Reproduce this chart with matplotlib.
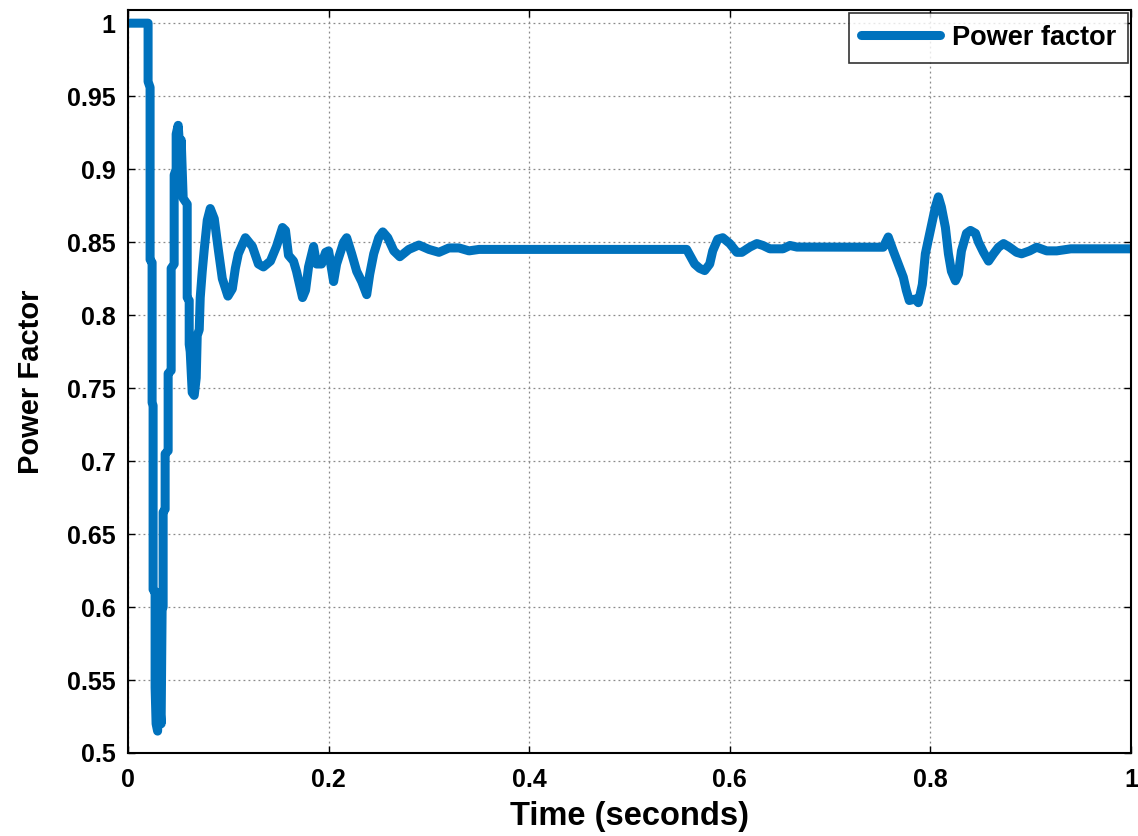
import matplotlib.pyplot as plt
from matplotlib.ticker import FormatStrFormatter

# time (s) and power factor
time_s = [
    0.0, 0.020, 0.020, 0.022, 0.022, 0.024, 0.024, 0.025, 0.025, 0.027,
    0.027, 0.028, 0.0295, 0.030, 0.031, 0.032, 0.033, 0.034, 0.035, 0.035,
    0.037, 0.037, 0.040, 0.040, 0.043, 0.043, 0.046, 0.046, 0.048, 0.048,
    0.050, 0.051, 0.052, 0.053, 0.054, 0.055, 0.057, 0.059, 0.059, 0.061,
    0.061, 0.062, 0.064, 0.066, 0.068, 0.069, 0.071, 0.072, 0.074, 0.076,
    0.079, 0.082, 0.086, 0.090, 0.094, 0.0996,
    0.104, 0.107, 0.110, 0.117, 0.124, 0.130, 0.135, 0.142, 0.148, 0.154,
    0.157, 0.160, 0.165, 0.168, 0.174, 0.177, 0.180, 0.185, 0.188, 0.193,
    0.197, 0.200, 0.205, 0.208, 0.215, 0.218, 0.223, 0.228, 0.233, 0.238,
    0.241, 0.245, 0.250, 0.254, 0.259, 0.265, 0.271, 0.280, 0.290, 0.300,
    0.310, 0.320, 0.330, 0.340, 0.350, 0.557, 0.565, 0.570, 0.575, 0.580,
    0.583, 0.588, 0.593, 0.600, 0.607, 0.612, 0.620, 0.627, 0.633, 0.640,
    0.653, 0.660, 0.667, 0.753, 0.758, 0.763, 0.768, 0.773, 0.776, 0.779,
    0.785, 0.788, 0.792, 0.795, 0.800, 0.805, 0.808, 0.811, 0.815, 0.818,
    0.821, 0.825, 0.828, 0.831, 0.836, 0.840, 0.845, 0.848, 0.853, 0.858,
    0.863, 0.868, 0.873, 0.879, 0.886, 0.891, 0.899, 0.906, 0.916, 0.926,
    0.940, 1.0,
]
power_factor = [
    1.0, 1.0, 0.96, 0.956, 0.838, 0.836, 0.74, 0.738, 0.612, 0.61,
    0.545, 0.52, 0.515, 0.53, 0.61, 0.53, 0.52, 0.60, 0.60, 0.665,
    0.667, 0.705, 0.707, 0.76, 0.762, 0.832, 0.835, 0.896, 0.90, 0.924,
    0.93, 0.92, 0.90, 0.92, 0.90, 0.88, 0.878, 0.876, 0.812, 0.81,
    0.78, 0.775, 0.747, 0.745, 0.757, 0.786, 0.79, 0.812, 0.830, 0.845,
    0.865, 0.873, 0.866, 0.845, 0.825, 0.813,
    0.818, 0.832, 0.842, 0.853, 0.847, 0.835, 0.833, 0.837, 0.847, 0.860,
    0.858, 0.841, 0.837, 0.830, 0.812, 0.817, 0.833, 0.847, 0.835, 0.835,
    0.843, 0.844, 0.823, 0.835, 0.850, 0.853, 0.842, 0.830, 0.823, 0.814,
    0.828, 0.842, 0.853, 0.857, 0.853, 0.844, 0.840, 0.845, 0.848, 0.845,
    0.843, 0.846, 0.846, 0.844, 0.845, 0.845, 0.835, 0.832, 0.8305, 0.835,
    0.844, 0.852, 0.853, 0.849, 0.843, 0.843, 0.8466, 0.849, 0.8477, 0.8454,
    0.8454, 0.8477, 0.8466, 0.8465, 0.8535, 0.844, 0.835, 0.826, 0.817, 0.810,
    0.811, 0.8085, 0.821, 0.842, 0.858, 0.874, 0.881, 0.874, 0.860, 0.842,
    0.830, 0.8235, 0.828, 0.844, 0.856, 0.858, 0.856, 0.850, 0.843, 0.837,
    0.842, 0.8465, 0.849, 0.8465, 0.843, 0.842, 0.844, 0.8465, 0.844, 0.844,
    0.8454, 0.8454,
]

x_ticks = [0, 0.2, 0.4, 0.6, 0.8, 1.0]
y_ticks = [0.5, 0.55, 0.6, 0.65, 0.7, 0.75, 0.8, 0.85, 0.9, 0.95, 1.0]

plt.rcParams['font.family'] = ['Liberation Sans', 'DejaVu Sans']
plt.rcParams['font.weight'] = 'bold'

fig = plt.figure(figsize=(11.38, 8.36), dpi=100)
ax = fig.add_axes([0.1125, 0.0993, 0.8813, 0.8887])

ax.plot(time_s, power_factor, color='#0072BD', linewidth=6.5,
        solid_joinstyle='round', solid_capstyle='round', label='Power factor')

ax.set_xlim(0, 1)
ax.set_ylim(0.5, 1.009)
ax.set_xticks(x_ticks)
ax.set_yticks(y_ticks)
ax.xaxis.set_major_formatter(FormatStrFormatter('%g'))
ax.yaxis.set_major_formatter(FormatStrFormatter('%g'))
ax.tick_params(direction='in', length=5, width=1, labelsize=18,
               top=True, right=True)
ax.tick_params(axis='x', pad=11)
ax.tick_params(axis='y', pad=9)
ax.grid(True, linestyle=(0, (1.5, 2.5)), color='#8a8a8a', linewidth=0.9)
for s in ax.spines.values():
    s.set_linewidth(1.5)

ax.set_xlabel('Time (seconds)', fontsize=23.5, fontweight='bold', labelpad=6)
ax.set_ylabel('Power Factor', fontsize=21, fontweight='bold', labelpad=16)

leg = ax.legend(loc='upper right', fontsize=19.5, frameon=True, fancybox=False,
                edgecolor='black', handlelength=2.9, handletextpad=0.45,
                borderaxespad=0.1, borderpad=0.45)
leg.get_frame().set_linewidth(1.2)

fig.savefig('out.png', dpi=100)
